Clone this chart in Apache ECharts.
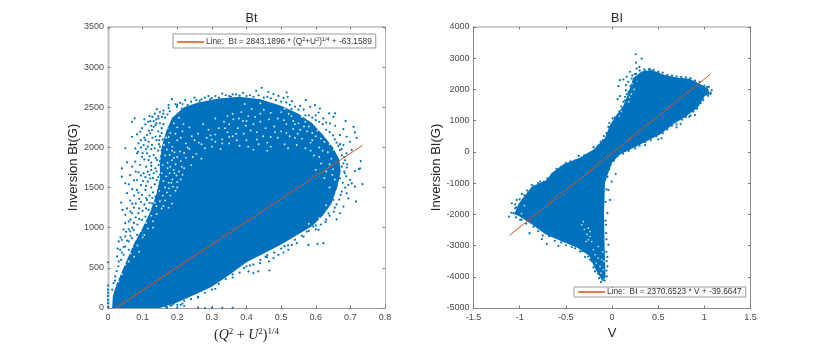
<!DOCTYPE html>
<html>
<head>
<meta charset="utf-8">
<title>Bt and BI inversion scatter</title>
<script src="https://cdn.jsdelivr.net/npm/echarts@6/dist/echarts.min.js"></script>
<style>
html, body { margin: 0; padding: 0; background: #fff; }
#chart { width: 830px; height: 347px; }
</style>
</head>
<body>
<div id="chart"></div>
<script>
const bt_x_ticks = [0, 0.8];  // min, max
const bt_y_ticks = [0, 3500];
const bl_x_ticks = [-1.5, 1.5];
const bl_y_ticks = [-5000, 4000];

// solid part of each cloud, read along its edge
const bt_cloud = [[0.012,0],[0.014,150],[0.025,300],[0.04,450],[0.055,600],[0.075,800],[0.1,1000],[0.122,1200],[0.14,1420],[0.15,1620],[0.15,1800],[0.155,2000],[0.168,2200],[0.185,2370],[0.22,2500],[0.26,2560],[0.32,2610],[0.38,2630],[0.44,2600],[0.5,2520],[0.55,2420],[0.59,2300],[0.62,2160],[0.65,2000],[0.668,1850],[0.672,1700],[0.662,1500],[0.645,1300],[0.62,1150],[0.59,1020],[0.55,920],[0.5,790],[0.45,680],[0.4,570],[0.35,410],[0.3,265],[0.25,165],[0.2,70],[0.15,0]];
const bl_cloud = [[-0.65,-670],[-0.53,-405],[-0.35,-190],[-0.2,75],[-0.076,447],[-0.02,873],[0.05,1190],[0.12,1460],[0.177,1885],[0.23,2365],[0.32,2577],[0.43,2620],[0.555,2480],[0.7,2380],[0.84,2340],[0.95,2180],[1.04,2030],[1.06,1853],[1.005,1790],[0.93,1420],[0.81,1150],[0.66,880],[0.52,560],[0.375,340],[0.23,128],[0.087,-85],[0,-350],[-0.04,-670],[-0.076,-1000],[-0.087,-2000],[-0.08,-3000],[-0.07,-4030],[-0.11,-4110],[-0.18,-3750],[-0.25,-3320],[-0.38,-3060],[-0.56,-2850],[-0.72,-2640],[-0.87,-2320],[-1.01,-2050],[-1.06,-2000],[-1.01,-1650],[-0.87,-1115],[-0.71,-900]];

// stray points outside the solid part
const bt_points = [[0.185,2601],[0.223,2589],[0.141,2477],[0.175,2526],[0.199,2506],[0.213,2485],[0.077,2361],[0.069,2319],[0.108,2286],[0.122,2328],[0.132,2328],[0.146,2361],[0.156,2381],[0.172,2410],[0.093,2195],[0.084,2162],[0.069,2133],[0.132,2257],[0.127,2216],[0.137,2278],[0.113,2154],[0.122,2174],[0.108,2091],[0.088,2050],[0.079,1988],[0.05,1990],[0.103,2029],[0.117,2071],[0.127,2029],[0.137,2133],[0.087,1946],[0.084,1926],[0.098,1884],[0.113,1926],[0.055,1814],[0.04,1739],[0.079,1822],[0.093,1781],[0.117,1843],[0.132,1905],[0.141,1843],[0.04,1636],[0.064,1656],[0.088,1690],[0.103,1677],[0.115,1698],[0.05,1553],[0.06,1540],[0.084,1594],[0.101,1582],[0.115,1574],[0.132,1677],[0.137,1739],[0.146,1781],[0.122,1615],[0.141,1594],[0.15,2010],[0.145,1960],[0.152,1890],[0.155,2180],[0.148,2090],[0.16,2290],[0.165,2370],[0.178,2450],[0.195,2540],[0.208,2555],[0.038,1313],[0.042,1222],[0.064,1338],[0.084,1471],[0.088,1438],[0.108,1471],[0.098,1409],[0.113,1346],[0.05,1056],[0.06,1077],[0.031,829],[0.04,849],[0.05,891],[0.035,725],[0.026,642],[0.031,580],[0.045,663],[0.05,766],[0.06,725],[0.069,870],[0.074,973],[0.064,953],[0.088,1181],[0.098,1098],[0.108,1139],[0.117,1222],[0.127,1305],[0.137,1388],[0.146,1429],[0.084,911],[0.021,393],[0.016,311],[0.012,228],[0.0,10],[0.0,60],[0.0,100],[0.0,150],[0.0,190],[0.0,230],[0.0,280],[0.0,570],[0.17,10],[0.2,5],[0.18,30],[0.21,40],[0.22,25],[0.165,20],[0.26,5],[0.28,0],[0.3,2],[0.33,3],[0.36,1],[0.19,55],[0.444,2742],[0.428,2705],[0.463,2692],[0.478,2663],[0.492,2642],[0.516,2684],[0.507,2617],[0.519,2630],[0.531,2576],[0.571,2589],[0.555,2518],[0.584,2506],[0.598,2526],[0.612,2485],[0.608,2435],[0.639,2423],[0.656,2423],[0.622,2361],[0.651,2381],[0.686,2328],[0.641,2299],[0.656,2270],[0.709,2257],[0.68,2228],[0.713,2187],[0.67,2153],[0.689,2133],[0.718,2120],[0.699,2071],[0.68,2029],[0.704,1967],[0.67,1967],[0.689,1926],[0.73,1830],[0.691,1789],[0.713,1706],[0.728,1739],[0.675,1760],[0.684,1677],[0.699,1594],[0.735,1544],[0.67,1615],[0.725,1731],[0.704,1553],[0.713,1511],[0.694,1532],[0.689,1428],[0.716,1325],[0.694,1366],[0.68,1263],[0.67,1180],[0.66,1105],[0.637,1180],[0.651,1346],[0.622,807],[0.605,799],[0.579,786],[0.608,973],[0.593,1014],[0.574,952],[0.545,807],[0.521,724],[0.492,662],[0.459,633],[0.465,579],[0.466,467],[0.434,455],[0.42,434],[0.406,455],[0.439,558],[0.478,620],[0.507,691],[0.531,786],[0.393,496],[0.25,2620],[0.29,2640],[0.33,2670],[0.36,2660],[0.39,2680],[0.41,2650],[0.3,2615],[0.27,2600],[0.35,2640],[0.38,2645],[0.46,2630],[0.53,2480],[0.57,2400],[0.6,2340],[0.63,2220],[0.66,2060],[0.675,1900],[0.68,1800],[0.675,1450],[0.655,1250],[0.63,1100],[0.6,980],[0.565,890],[0.51,770],[0.455,640],[0.41,530],[0.36,380],[0.31,240],[0.26,140],[0.215,55],
[0.12,2390],[0.135,2420],[0.15,2440],[0.16,2460],[0.105,2350],[0.116,2320],[0.128,2380],[0.14,2350],[0.15,2300],[0.155,2240],[0.145,2200],[0.15,2140],[0.158,2100],[0.14,2090],[0.128,2120],[0.118,2210],[0.098,2240],[0.125,1980],[0.135,1990],[0.147,2040],[0.155,1960],[0.11,1980],[0.12,1890],[0.138,1870],[0.15,1830],[0.157,1900],[0.105,1850],[0.11,1760],[0.125,1770],[0.14,1700],[0.155,1740],[0.15,1660],[0.158,1640],[0.125,1720],[0.108,1630],[0.12,1660],[0.13,1620],[0.145,1630],[0.155,1560],[0.15,1510],[0.135,1540],[0.125,1500],[0.145,1470],[0.155,1440],[0.13,1440],[0.12,1400],[0.11,1370],[0.128,1370],[0.14,1340],[0.12,1310],[0.105,1290],[0.095,1320],[0.11,1240],[0.1,1210],[0.09,1240],[0.08,1130],[0.09,1110],[0.075,1060],[0.085,1040],[0.07,1000],[0.06,980],[0.065,900],[0.055,840],[0.06,830],[0.045,760],[0.04,690],[0.038,600],[0.03,520],[0.025,460],[0.02,340],[0.07,1180],[0.075,1250],[0.065,1200],[0.08,1300],
[0.2,2530],[0.215,2540],[0.23,2530],[0.24,2570],[0.255,2590],[0.265,2580],[0.28,2620],[0.295,2600],[0.31,2640],[0.32,2620],[0.34,2650],[0.355,2630],[0.37,2660],[0.4,2640],[0.42,2630],[0.435,2650],[0.45,2620],[0.47,2610],[0.485,2590],[0.5,2570],[0.515,2560],[0.525,2530],[0.54,2510],[0.55,2470],[0.565,2470],[0.58,2400],[0.59,2370],[0.6,2400],[0.61,2320],[0.62,2290],[0.63,2310],[0.64,2190],[0.65,2150],[0.655,2100],[0.665,2020],[0.67,2040],[0.675,1980],[0.682,1880],[0.685,1840],[0.69,1750],[0.682,1700],[0.688,1640],[0.678,1560],[0.685,1500],[0.672,1410],[0.668,1350],[0.66,1290],[0.652,1200],[0.64,1150],[0.628,1070],[0.615,1040],[0.6,1030],[0.58,960],[0.56,900],[0.54,850],[0.52,780],[0.5,740],[0.48,690],[0.46,660],[0.44,600],[0.42,540],[0.4,520],[0.38,440],[0.36,420],[0.34,360],[0.32,300],[0.3,230],[0.28,190],[0.26,130],[0.24,110],[0.22,90],[0.2,40],[0.185,35],[0.17,2],
[0.175,2490],[0.16,2420],[0.145,2390],[0.125,2270],[0.14,2300],[0.105,2120],[0.095,2090],[0.115,2010],[0.095,2000],[0.1,1930],[0.125,1810],[0.07,1760],[0.08,1700],[0.095,1650],[0.075,1590],[0.07,1480],[0.095,1530],[0.11,1520],[0.055,1430],[0.075,1400],[0.09,1360],[0.07,1300],[0.055,1240],[0.05,1160],[0.065,1100],[0.045,980],[0.052,950],[0.036,880],[0.028,740]];
const bl_points = [[0.256,3127],[0.321,2989],[0.259,2861],[0.296,2722],[0.267,2669],[0.195,2563],[0.249,2488],[0.159,2403],[0.123,2318],[0.086,2296],[0.068,2105],[0.151,2137],[0.177,2243],[0.213,2350],[0.177,1924],[0.141,1764],[0.086,1785],[0.061,1689],[0.123,1604],[0.187,1498],[0.213,2137],[0.231,1924],[0.151,1977],[0.285,2190],[0.321,2350],[0.267,2296],[0.357,2595],[0.411,2648],[0.501,2563],[1.049,2083],[1.067,1849],[0.988,1657],[0.934,1498],[0.898,1178],[0.836,1125],[0.743,891],[0.699,784],[0.537,433],[0.501,401],[0.357,220],[-0.123,326],[-0.087,507],[-0.04,805],[-0.029,933],[0.007,1072],[0.05,1125],[0.04,-708],[-0.003,-952],[-0.039,-1219],[-0.021,-1538],[-0.05,-1964],[-0.065,-2337],[-0.039,-2976],[-0.05,-3370],[-0.05,-3668],[-0.057,-3988],[-0.119,-4169],[-0.14,-4041],[-0.184,-3828],[-0.238,-3455],[-0.292,-3370],[-0.346,-3189],[-0.436,-3050],[-0.58,-3008],[-0.706,-2944],[-0.76,-2795],[-0.894,-2603],[-1.085,-1645],[-1.049,-1805],[-1.114,-2071],[-1.067,-1964],[-0.995,-2177],[-1.031,-1538],[-0.977,-1346],[-0.869,-1059],[-0.778,-952],[-0.652,-739],[-0.616,-665],
[-0.6,-540],[-0.55,-480],[-0.5,-360],[-0.45,-300],[-0.4,-280],[-0.36,-130],[-0.3,-100],[-0.26,-60],[-0.2,150],[-0.15,200],[-0.1,380],[-0.06,600],[-0.03,780],[0.03,1100],[0.08,1300],[0.1,1450],[0.14,1650],[0.16,1850],[0.2,2100],[0.22,2450],[0.26,2500],[0.3,2600],[0.35,2640],[0.4,2640],[0.45,2630],[0.5,2560],[0.55,2540],[0.6,2470],[0.65,2440],[0.7,2420],[0.75,2400],[0.8,2390],[0.85,2360],[0.9,2280],[0.95,2240],[1,2120],[1.03,2080],[1.08,1980],[1.07,1900],[1.04,1800],[0.98,1720],[0.96,1560],[0.92,1380],[0.88,1290],[0.85,1160],[0.8,1110],[0.76,1030],[0.7,880],[0.65,840],[0.6,720],[0.55,600],[0.48,500],[0.42,370],[0.36,310],[0.3,200],[0.25,110],[0.18,30],[0.12,-60],[0.06,-120],[0.02,-280],[-0.015,-420],[-0.03,-560],[-0.05,-800],[-0.06,-1200],[-0.07,-1600],[-0.07,-2200],[-0.065,-2600],[-0.06,-2800],[-0.062,-3200],[-0.058,-3500],[-0.06,-3800],[-0.08,-4120],[-0.1,-4100],[-0.15,-3900],[-0.2,-3700],[-0.22,-3500],[-0.26,-3350],[-0.32,-3180],[-0.4,-3090],[-0.5,-2990],[-0.55,-2900],[-0.62,-2850],[-0.68,-2700],[-0.75,-2680],[-0.8,-2540],[-0.85,-2400],[-0.93,-2300],[-0.98,-2170],[-1.04,-2100],[-1.09,-1950],[-1.04,-1780],[-1.05,-1680],[-1,-1520],[-0.95,-1380],[-0.92,-1240],[-0.85,-1100],[-0.8,-1000],[-0.74,-960],[-0.7,-850],[-0.65,-720]];

// pale specks inside the solid part, where the cloud thins out
const bt_gaps = [[0.165,2300],[0.172,2240],[0.18,2180],[0.168,2120],[0.176,2060],[0.186,2010],[0.17,1975],[0.192,1940],[0.178,1905],[0.2,1880],[0.185,1840],[0.172,1810],[0.195,1790],[0.21,1830],[0.18,1760],[0.19,1720],[0.205,1700],[0.178,1680],[0.168,1640],[0.198,1650],[0.215,1660],[0.186,1600],[0.2,1570],[0.175,1560],[0.165,1500],[0.188,1510],[0.21,1600],[0.22,1740],[0.17,1440],[0.158,1400],[0.18,1400],[0.195,1460],[0.15,1330],[0.165,1340],[0.185,1300],[0.14,1270],[0.155,1240],[0.125,1150],[0.14,1170],[0.11,1060],[0.13,1080],[0.095,960],[0.115,990],[0.08,860],[0.1,880],[0.07,760],[0.085,780],[0.065,680],[0.05,540],[0.06,580],[0.04,420],[0.03,330],[0.2,2250],[0.215,2200],[0.21,2120],[0.225,2050],[0.2,2090],[0.235,1980],[0.22,1930],[0.245,1880],[0.23,2000],[0.195,2170],[0.19,2300],[0.205,2370],[0.26,2170],[0.285,2120],[0.27,2040],[0.3,2010],[0.32,2240],[0.335,2320],[0.35,2290],[0.345,2190],[0.36,2140],[0.375,2240],[0.39,2330],[0.405,2390],[0.42,2290],[0.43,2190],[0.44,2320],[0.455,2240],[0.47,2130],[0.48,2260],[0.49,2360],[0.5,2200],[0.515,2290],[0.525,2140],[0.535,2230],[0.55,2300],[0.56,2110],[0.575,2200],[0.585,2060],[0.6,2140],[0.61,2000],[0.625,2070],[0.635,1940],[0.645,1860],[0.65,1730],[0.655,1600],[0.64,1500],[0.615,1800],[0.595,1900],[0.57,1990],[0.545,2030],[0.51,2040],[0.47,2010],[0.435,2040],[0.4,2090],[0.38,2020],[0.35,2050],[0.33,2100],[0.31,2160],[0.29,2220],[0.275,2290],[0.31,2360],[0.36,2420],[0.385,2440],[0.415,2480],[0.45,2470],[0.47,2430],[0.5,2440],[0.53,2390],[0.56,2380],[0.58,2260],[0.605,2210],[0.62,1960],[0.64,2040],[0.6,2290],[0.54,2120],[0.46,1960],[0.42,1970],[0.325,1980],[0.255,1920],[0.27,1860],[0.24,1780],[0.235,2250],[0.25,2090],[0.66,1450],[0.63,1280],[0.61,1120],[0.645,1190],[0.58,1050],[0.63,1700],[0.6,1720],[0.395,2540],[0.44,2550],[0.51,2480],
[0.378,2360],[0.362,2350],[0.398,2270],[0.412,2210],[0.448,2140],[0.465,2350],[0.482,2190],[0.508,2340],[0.522,2420],[0.54,2290],[0.548,2170],[0.566,2260],[0.59,2180],[0.612,2260],[0.628,2130],[0.652,1970],[0.64,1790],[0.625,1620],[0.648,1660],[0.35,2130],[0.372,2090],[0.392,2170],[0.338,2240],[0.31,2070],[0.296,2150],[0.262,2060],[0.242,2140],[0.218,2290],[0.225,1870],[0.208,1950],[0.19,1870],[0.213,1760],[0.176,1490],[0.2,1500],[0.16,1270],[0.175,1250],[0.13,1000],[0.105,910],[0.09,700],[0.075,640],
[0.158,1780],[0.165,1900],[0.162,2030],[0.155,1680],[0.16,1580],[0.148,1460],[0.135,1310],[0.12,1220],[0.17,2340],[0.175,2130],[0.185,1960],[0.183,1560],[0.192,1680],[0.172,1740],[0.162,2150],[0.425,2380],[0.44,2420],[0.4,2330],[0.37,2170],[0.33,2050],[0.46,2060],[0.49,2120],[0.515,2180],[0.535,2330],[0.57,2320],[0.59,2090],[0.615,2110],[0.61,1880],[0.585,1960],[0.555,2220],[0.52,1990],[0.405,2010],[0.28,1990],[0.3,2100],[0.345,2390],[0.43,2100]];
const bl_gaps = [[-0.31,-2231],[-0.328,-2337],[-0.256,-2444],[-0.238,-2710],[-0.281,-2870],[-0.22,-2870],[-0.202,-3136],[-0.148,-3030],[-0.184,-3296],[-0.111,-3455],[-0.13,-3668],[-0.094,-3775],[-0.238,-2550],[-0.256,-2816],[-0.15,-3400],[-0.17,-3560],[-0.1,-3200],[-0.12,-3880],[-0.085,-3500],[-0.27,-2640],[-0.3,-2480],[0.14,1800],[0.17,2080],[0.2,2240],[0.21,1850],[0.18,1600],[0.1,1300],[0.24,2000],[0.22,2180],[0.19,1750],[0.08,1150],[0.27,2280],[-0.98,-1980],[-0.95,-1720]];

// fit lines, end points
const bt_line = [[0.022,0],[0.735,2026]];
const bl_line = [[-1.11,-2675],[1.067,2490]];

const bt_title = "Bt";
const bl_title = "BI";
const bt_ylabel = "Inversion Bt(G)";
const bl_ylabel = "Inversion BI(G)";
const bl_xlabel = "V";
const bt_xlabel_rich = "{n|(}{i|Q}{s|2}{n| + }{i|U}{s|2}{n|)}{s|1/4}";
const bt_legend_rich = "{t|Line:  Bt = 2843.1896 * (Q}{u|2}{t|+U}{u|2}{t|)}{u|1/4}{t| + -63.1589}";
const bl_legend_rich = "{t|Line:  BI = 2370.6523 * V + -39.6647}";

const blue = "#0072bd";
const orange = "#d95319";
const font = "Liberation Sans";
const tick_color = "#4a4a4a";

function cloud_series(points, axis_index) {
    return {
        type: "custom",
        xAxisIndex: axis_index,
        yAxisIndex: axis_index,
        data: [[points[0][0], points[0][1]]],
        clip: true,
        silent: true,
        renderItem: function (params, api) {
            return {
                type: "polygon",
                shape: { points: points.map((p) => api.coord(p)) },
                style: { fill: blue },
            };
        },
    };
}

function dots_series(data, axis_index, color, size) {
    return {
        type: "scatter",
        xAxisIndex: axis_index,
        yAxisIndex: axis_index,
        data: data,
        symbolSize: size,
        itemStyle: { color: color, opacity: 1 },
        silent: true,
    };
}

function line_series(name, data, axis_index) {
    return {
        name: name,
        type: "line",
        xAxisIndex: axis_index,
        yAxisIndex: axis_index,
        data: data,
        symbol: "none",
        lineStyle: { color: orange, width: 1 },
        itemStyle: { color: orange },
        silent: true,
    };
}

function x_axis(grid, range, interval, pos, name, rich, edge_color, edge_width) {
    return {
        type: "value",
        gridIndex: grid,
        position: pos,
        min: range[0],
        max: range[1],
        interval: interval,
        splitLine: { show: false },
        axisLine: { onZero: false, lineStyle: { color: edge_color, width: edge_width } },
        axisTick: { inside: true, length: 2.5, lineStyle: { color: "#777", width: 1 } },
        axisLabel: { show: pos === "bottom", fontFamily: font, fontSize: 9, color: tick_color, margin: 5, formatter: (v) => String(v) },
        name: name,
        nameLocation: "middle",
        nameGap: 15,
        nameTextStyle: {
            fontFamily: font, fontSize: 13, color: "#262626",
            rich: rich,
        },
    };
}

function y_axis(grid, range, interval, pos, name, edge_color, edge_width, name_gap) {
    return {
        type: "value",
        gridIndex: grid,
        position: pos,
        min: range[0],
        max: range[1],
        interval: interval,
        splitLine: { show: false },
        axisLine: { onZero: false, lineStyle: { color: edge_color, width: edge_width } },
        axisTick: { inside: true, length: 2.5, lineStyle: { color: "#777", width: 1 } },
        axisLabel: { show: pos === "left", fontFamily: font, fontSize: 9, color: tick_color, margin: 4, formatter: (v) => String(v) },
        name: name,
        nameLocation: "middle",
        nameGap: name_gap,
        nameTextStyle: { fontFamily: font, fontSize: 13, color: "#262626" },
    };
}

const label_rich = {
    n: { fontFamily: "Liberation Serif", fontSize: 14, color: "#262626", lineHeight: 16 },
    i: { fontFamily: "Liberation Serif", fontStyle: "italic", fontSize: 14, color: "#262626", lineHeight: 16 },
    s: { fontFamily: "Liberation Serif", fontSize: 9, color: "#262626", lineHeight: 9, verticalAlign: "top" },
};
const legend_rich = {
    t: { fontFamily: font, fontSize: 8.3, color: "#333", lineHeight: 12 },
    u: { fontFamily: font, fontSize: 5.5, color: "#333", lineHeight: 6, verticalAlign: "top" },
};

function legend_box(name, text, left, top, pad) {
    return {
        data: [name],
        left: left,
        top: top,
        orient: "horizontal",
        padding: pad,
        icon: "rect",
        itemWidth: 27,
        itemHeight: 1.5,
        itemGap: 0,
        backgroundColor: "#fff",
        borderColor: "#999",
        borderWidth: 1,
        borderRadius: 0,
        selectedMode: false,
        formatter: () => text,
        textStyle: { fontFamily: font, fontSize: 8.3, color: "#333", padding: [0, 0, 0, -3], rich: legend_rich },
    };
}

const option = {
    animation: false,
    backgroundColor: "#fff",
    title: [
        { text: bt_title, left: 246.5, top: 7, textAlign: "center", textStyle: { fontFamily: font, fontSize: 12.5, fontWeight: "normal", color: "#262626" } },
        { text: bl_title, left: 612, top: 7, textAlign: "center", textStyle: { fontFamily: font, fontSize: 12.5, fontWeight: "normal", color: "#262626" } },
    ],
    legend: [
        legend_box("Bt fit", bt_legend_rich, 173, 34, [2, 4, 2, 4]),
        legend_box("BI fit", bl_legend_rich, 574, 287, [1, 4, 1, 4]),
    ],
    grid: [
        { left: 108, top: 27, width: 277, height: 281, containLabel: false },
        { left: 473.5, top: 27, width: 277, height: 281, containLabel: false },
    ],
    xAxis: [
        x_axis(0, bt_x_ticks, 0.1, "bottom", bt_xlabel_rich, label_rich, "#999", 1),
        x_axis(1, bl_x_ticks, 0.5, "bottom", bl_xlabel, undefined, "#888", 1),
        x_axis(0, bt_x_ticks, 0.1, "top", "", undefined, "#ccc", 2),
        x_axis(1, bl_x_ticks, 0.5, "top", "", undefined, "#ccc", 2),
    ],
    yAxis: [
        y_axis(0, bt_y_ticks, 500, "left", bt_ylabel, "#ccc", 2.5, 22),
        y_axis(1, bl_y_ticks, 1000, "left", bl_ylabel, "#888", 1, 26),
        y_axis(0, bt_y_ticks, 500, "right", "", "#bbb", 1, 0),
        y_axis(1, bl_y_ticks, 1000, "right", "", "#888", 1, 0),
    ],
    series: [
        cloud_series(bt_cloud, 0),
        dots_series(bt_gaps, 0, "rgba(255,255,255,0.85)", 1.9),
        dots_series(bt_points, 0, blue, 2.2),
        line_series("Bt fit", bt_line, 0),
        cloud_series(bl_cloud, 1),
        dots_series(bl_gaps, 1, "rgba(255,255,255,0.8)", 1.7),
        dots_series(bl_points, 1, blue, 2.2),
        line_series("BI fit", bl_line, 1),
    ],
};

const chart = echarts.init(document.getElementById("chart"));
chart.setOption(option);
</script>
</body>
</html>
